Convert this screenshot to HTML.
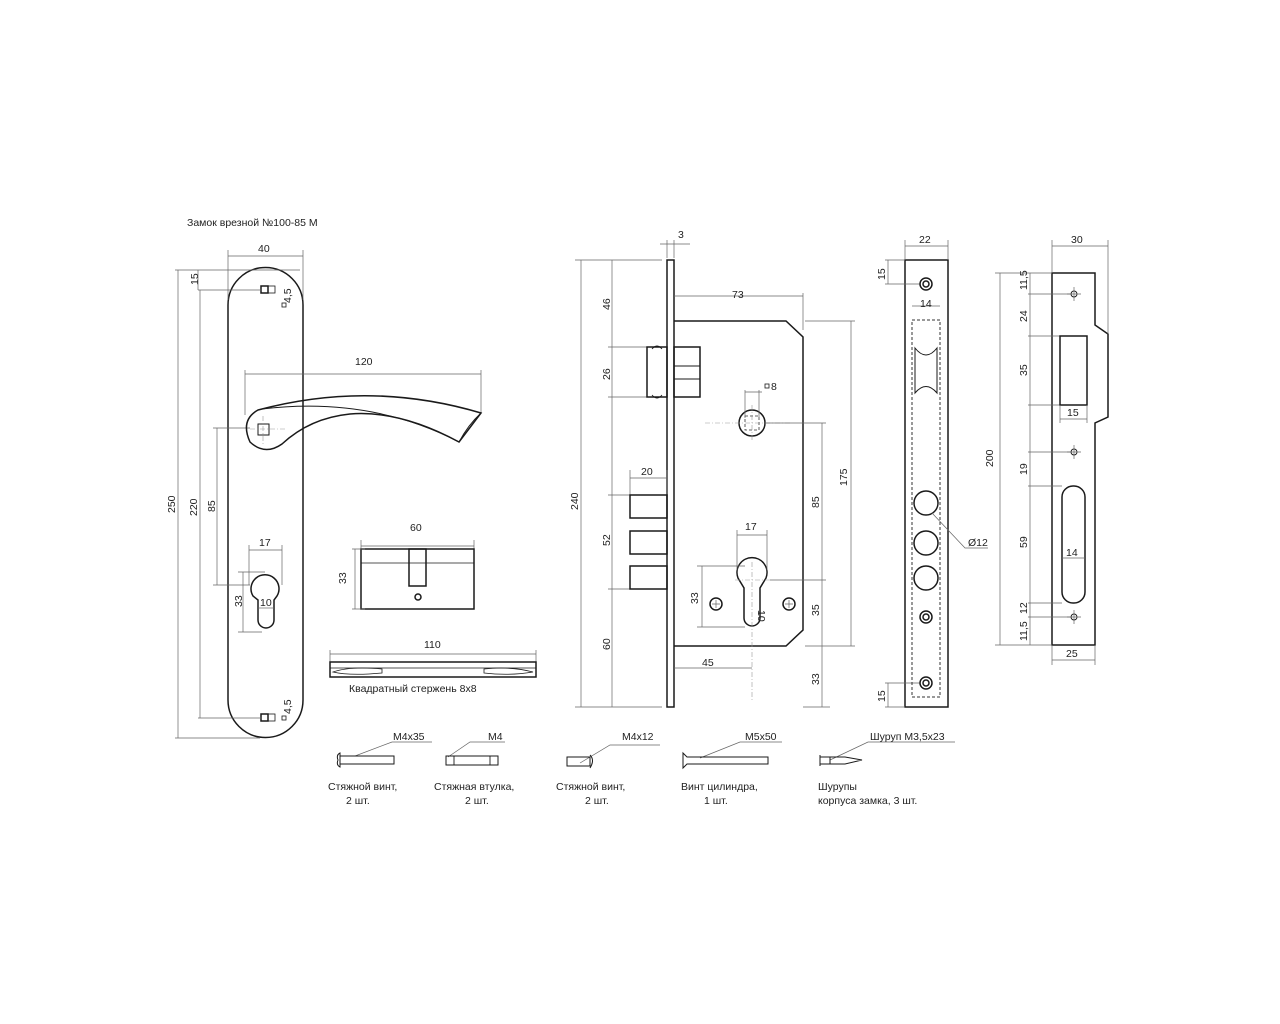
<!DOCTYPE html>
<html><head><meta charset="utf-8"><style>
html,body{margin:0;padding:0;background:#fff;}
svg{display:block;}
text{font-family:"Liberation Sans",sans-serif;font-size:10.5px;fill:#222;}
.m{stroke:#1a1a1a;stroke-width:1.5;fill:none;}
.d{stroke:#666;stroke-width:0.7;fill:none;}
.c{stroke:#999;stroke-width:0.6;fill:none;stroke-dasharray:5 2 1 2;}
.h{stroke:#333;stroke-width:1;fill:none;stroke-dasharray:3 2;}
</style></head><body>
<svg width="1280" height="1024" viewBox="0 0 1280 1024" xmlns="http://www.w3.org/2000/svg">
<text x="187" y="226">Замок врезной №100-85 М</text>

<!-- Handle plate -->
<path class="m" d="M228,305 A37.5,37.5 0 0 1 303,305 L303,700 A37.5,37.5 0 0 1 228,700 Z"/>
<rect class="m" x="261" y="286" width="7" height="7"/><rect class="m" x="268" y="286" width="7" height="7" style="stroke-width:0.8"/>
<rect class="m" x="261" y="714" width="7" height="7"/><rect class="m" x="268" y="714" width="7" height="7" style="stroke-width:0.8"/>
<rect class="m" x="282" y="303" width="4" height="4" style="stroke-width:0.8"/>
<text transform="translate(291,303) rotate(-90)">4,5</text>
<rect class="m" x="282" y="716" width="4" height="4" style="stroke-width:0.8"/>
<text transform="translate(291,714) rotate(-90)">4,5</text>
<!-- dims -->
<path class="d" d="M228,250 V300 M303,250 V300 M228,256 H303"/>
<text x="258" y="252">40</text>
<path class="d" d="M175,270 H300 M175,738 H260 M178,270 V738"/>
<text transform="translate(175,513) rotate(-90)">250</text>
<path class="d" d="M198,270 V290 M198,290 H262 M198,718 H262 M200,290 V718"/>
<text transform="translate(198,285) rotate(-90)">15</text>
<text transform="translate(197,516) rotate(-90)">220</text>
<path class="d" d="M213,428 H250 M213,585 H250 M217,428 V585"/>
<text transform="translate(215,512) rotate(-90)">85</text>
<!-- lever -->
<path class="d" d="M245,370 V415 M481,370 V413 M245,374 H481"/>
<text x="355" y="365">120</text>
<path class="m" d="M258,410 Q370,380 481,413 L459,442 Q400,410 350,414 Q310,418 282,444 Q265,456 250,442 Q240,420 258,410 Z"/>
<path class="m" d="M262,409 Q370,396 459,442 M481,413 Q468,425 459,442" style="stroke-width:0.9"/>
<rect class="m" x="258" y="424" width="11" height="11" style="stroke-width:1"/>
<path class="c" d="M250,429 H285 M263,416 V445"/>
<!-- keyhole -->
<path class="m" d="M253,596 A14,14 0 1 1 277,596 L274,600 V620 A8,8 0 0 1 258,620 V600 Z"/>
<path class="d" d="M249,545 V585 M282,545 V585 M249,550 H282"/>
<text x="259" y="546">17</text>
<path class="d" d="M238,572 H265 M238,632 H262 M243,572 V632"/>
<text transform="translate(242,607) rotate(-90)">33</text>
<path class="d" d="M258,608 H274"/><text x="260" y="606">10</text>

<!-- cylinder -->
<path class="d" d="M361,540 V560 M474,540 V560 M361,546 H474"/>
<text x="410" y="531">60</text>
<rect class="m" x="361" y="549" width="113" height="60"/>
<path class="m" d="M361,563 H474" style="stroke-width:0.8"/>
<rect class="m" x="409" y="549" width="17" height="37"/>
<circle class="m" cx="418" cy="597" r="3"/>
<path class="d" d="M352,549 H365 M352,609 H365 M355,549 V609"/>
<text transform="translate(346,584) rotate(-90)">33</text>

<!-- rod -->
<path class="d" d="M330,650 V662 M536,650 V662 M330,654 H536"/>
<text x="424" y="648">110</text>
<rect class="m" x="330" y="662" width="206" height="15"/>
<path class="m" d="M330,668 H536" style="stroke-width:0.8"/>
<path class="m" d="M333,672 Q350,666 382,669 V673 Q350,676 333,672 Z" style="stroke-width:0.8"/>
<path class="m" d="M484,669 Q510,666 533,672 Q510,676 484,673 Z" style="stroke-width:0.8"/>
<text x="349" y="692">Квадратный стержень 8х8</text>

<!-- Lock body -->
<rect class="m" x="667" y="260" width="7" height="447"/>
<path class="m" d="M674,321 H786 L803,337 V630 L786,646 H674"/>
<path class="d" d="M667,240 V258 M674,240 V258 M660,244 H690"/>
<text x="678" y="238">3</text>
<path class="d" d="M674,296 H803 M803,293 V330"/>
<text x="732" y="298">73</text>
<path class="d" d="M805,321 H855 M805,646 H855 M851,321 V646"/>
<text transform="translate(847,486) rotate(-90)">175</text>
<path class="d" d="M575,260 H662 M575,707 H662 M581,260 V707"/>
<text transform="translate(578,510) rotate(-90)">240</text>
<path class="d" d="M612,260 V707 M608,347 H647 M608,397 H647"/>
<text transform="translate(610,310) rotate(-90)">46</text>
<text transform="translate(610,380) rotate(-90)">26</text>
<path class="d" d="M608,495 H630 M608,589 H630"/>
<text transform="translate(610,546) rotate(-90)">52</text>
<text transform="translate(610,650) rotate(-90)">60</text>
<!-- latch -->
<rect class="m" x="647" y="347" width="20" height="50"/>
<path class="m" d="M652,349 Q657,343 662,349 M652,395 Q657,401 662,395" style="stroke-width:0.9"/>
<rect class="m" x="674" y="347" width="26" height="50"/><path class="m" d="M674,366 H700 M674,379 H700" style="stroke-width:0.9"/>
<!-- bolts -->
<path class="d" d="M630,470 V495 M667,470 V495 M630,478 H667"/>
<text x="641" y="475">20</text>
<rect class="m" x="630" y="495" width="37" height="23"/>
<rect class="m" x="630" y="531" width="37" height="23"/>
<rect class="m" x="630" y="566" width="37" height="23"/>
<!-- follower -->
<circle class="m" cx="752" cy="423" r="13"/>
<rect class="h" x="745" y="416" width="14" height="14" style="stroke-width:0.8"/>
<path class="c" d="M705,423 H790 M752,405 V440"/>
<path class="d" d="M745,390 V418 M759,390 V418 M745,392 H762 M765,423 H826"/>
<rect class="m" x="765" y="384" width="4" height="4" style="stroke-width:0.8"/>
<text x="771" y="390">8</text>
<!-- cylinder hole -->
<path class="m" d="M738,578 A15,15 0 1 1 766,578 L760,588 V618 A8,8 0 0 1 744,618 V588 Z"/>
<path class="c" d="M752,562 V700 M735,580 H770"/>
<circle class="m" cx="716" cy="604" r="6"/><circle class="m" cx="789" cy="604" r="6"/>
<path class="d" d="M712,604 H720 M716,600 V608 M785,604 H793 M789,600 V608"/>
<path class="d" d="M737,530 V570 M767,530 V570 M737,535 H767"/>
<text x="745" y="530">17</text>
<path class="d" d="M697,566 H745 M697,627 H745 M702,566 V627"/>
<text transform="translate(698,604) rotate(-90)">33</text>
<text transform="translate(758,610) rotate(90)">10</text>
<path class="d" d="M770,580 H826 M822,423 V707 M803,707 H830 M674,668 H752"/>
<text transform="translate(819,508) rotate(-90)">85</text>
<text transform="translate(819,616) rotate(-90)">35</text>
<text transform="translate(819,685) rotate(-90)">33</text>
<text x="702" y="666">45</text>

<!-- Strike plate 1 -->
<rect class="m" x="905" y="260" width="43" height="447"/>
<path class="d" d="M905,240 V260 M948,240 V260 M905,246 H948"/>
<text x="919" y="243">22</text>
<path class="d" d="M885,260 H905 M885,284 H920 M888,260 V284"/>
<text transform="translate(885,280) rotate(-90)">15</text>
<path class="d" d="M885,683 H920 M885,707 H905 M888,683 V707"/>
<text transform="translate(885,702) rotate(-90)">15</text>
<rect class="h" x="912" y="320" width="28" height="377"/>
<path class="d" d="M912,306 H940"/><text x="920" y="307">14</text>
<path class="m" d="M915,348 Q926,362 937,348 V393 Q926,380 915,393 Z" style="stroke-width:1"/>
<circle class="m" cx="926" cy="503" r="12"/><circle class="m" cx="926" cy="543" r="12"/><circle class="m" cx="926" cy="578" r="12"/>
<path class="d" d="M932,513 L965,548 H988"/>
<text x="968" y="546">Ø12</text>
<circle class="m" cx="926" cy="284" r="6"/><circle class="m" cx="926" cy="284" r="3"/>
<circle class="m" cx="926" cy="617" r="6"/><circle class="m" cx="926" cy="617" r="3"/>
<circle class="m" cx="926" cy="683" r="6"/><circle class="m" cx="926" cy="683" r="3"/>

<!-- Strike plate 2 -->
<path class="m" d="M1052,273 H1095 V325 L1108,334 V417 L1095,423 V645 H1052 Z"/>
<path class="d" d="M1052,240 V273 M1108,240 V334 M1052,246 H1108"/>
<text x="1071" y="243">30</text>
<path class="d" d="M995,273 H1052 M995,645 H1052 M1000,273 V645"/>
<text transform="translate(993,467) rotate(-90)">200</text>
<path class="d" d="M1030,273 V645 M1028,294 H1072 M1028,336 H1060 M1028,405 H1060 M1028,452 H1072 M1028,486 H1062 M1028,603 H1062 M1028,617 H1072"/>
<text transform="translate(1027,290) rotate(-90)">11,5</text>
<text transform="translate(1027,322) rotate(-90)">24</text>
<text transform="translate(1027,376) rotate(-90)">35</text>
<text transform="translate(1027,475) rotate(-90)">19</text>
<text transform="translate(1027,548) rotate(-90)">59</text>
<text transform="translate(1027,614) rotate(-90)">12</text>
<text transform="translate(1027,641) rotate(-90)">11,5</text>
<rect class="m" x="1060" y="336" width="27" height="69"/>
<path class="d" d="M1060,405 V423 M1087,405 V423 M1060,419 H1087"/>
<text x="1067" y="416">15</text>
<rect class="m" x="1062" y="486" width="23" height="117" rx="11"/>
<path class="d" d="M1062,558 H1085"/><text x="1066" y="556">14</text>
<path class="d" d="M1052,645 V665 M1095,645 V665 M1052,660 H1095"/>
<text x="1066" y="657">25</text>
<circle class="m" cx="1074" cy="294" r="3" style="stroke-width:0.9"/><path class="d" d="M1067,294 H1081 M1074,287 V301"/>
<circle class="m" cx="1074" cy="452" r="3" style="stroke-width:0.9"/><path class="d" d="M1067,452 H1081 M1074,445 V459"/>
<circle class="m" cx="1074" cy="617" r="3" style="stroke-width:0.9"/><path class="d" d="M1067,617 H1081 M1074,610 V624"/>

<!-- Screws row -->
<path class="d" d="M355,756 L392,742 H432"/><text x="393" y="740">M4x35</text>
<path class="m" d="M338,760 Q336,755 340,753 V767 Q336,765 338,760 Z M340,756 H394 V764 H340" style="stroke-width:1"/>
<text x="328" y="790">Стяжной винт,</text><text x="346" y="804">2 шт.</text>

<path class="d" d="M448,757 L470,742 H505"/><text x="488" y="740">M4</text>
<rect class="m" x="446" y="756" width="52" height="9" style="stroke-width:1"/><path class="m" d="M454,756 V765 M490,756 V765" style="stroke-width:0.9"/>
<text x="434" y="790">Стяжная втулка,</text><text x="465" y="804">2 шт.</text>

<path class="d" d="M580,763 L610,745 H660"/><text x="622" y="740">M4x12</text>
<path class="m" d="M567,757 H590 V766 H567 Z M590,755 Q595,760 590,768" style="stroke-width:1"/>
<text x="556" y="790">Стяжной винт,</text><text x="585" y="804">2 шт.</text>

<path class="d" d="M700,758 L740,742 H782"/><text x="745" y="740">M5x50</text>
<path class="m" d="M683,753 L687,757 H768 V764 H687 L683,768 Z" style="stroke-width:1"/>
<text x="681" y="790">Винт цилиндра,</text><text x="704" y="804">1 шт.</text>

<path class="d" d="M830,760 L868,742 H955"/><text x="870" y="740">Шуруп М3,5х23</text>
<path class="m" d="M820,755 V766 M820,757 H830 V764 H820 M830,757 H845 L862,760 L845,764 H830" style="stroke-width:1"/>
<text x="818" y="790">Шурупы</text><text x="818" y="804">корпуса замка, 3 шт.</text>
</svg>
</body></html>
